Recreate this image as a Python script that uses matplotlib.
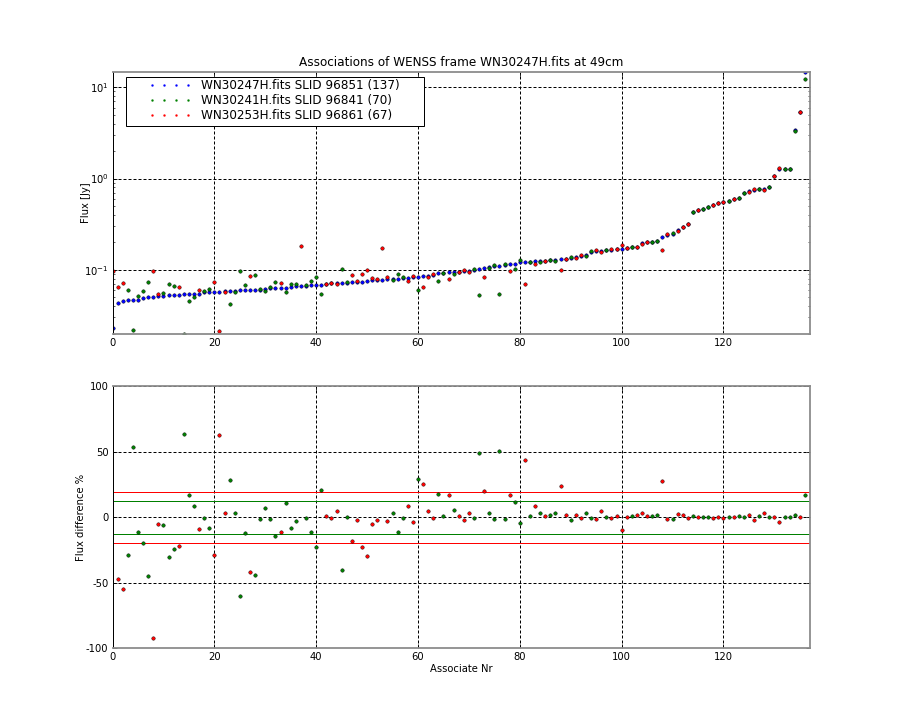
import numpy as np
import matplotlib
matplotlib.use("Agg")
import matplotlib.pyplot as plt
from matplotlib.lines import Line2D
from matplotlib.patches import Rectangle

# ---------------- data ----------------
title = "Associations of WENSS frame WN30247H.fits at 49cm"
ref_name = "WN30247H.fits SLID 96851"
green_name = "WN30241H.fits SLID 96841"
red_name = "WN30253H.fits SLID 96861"

# flux of the reference catalogue (sorted), Jy
ref_flux = [
    0.0230, 0.0434, 0.0457, 0.0469, 0.0469, 0.0470, 0.0493, 0.0506, 0.0506, 0.0519,
    0.0520, 0.0532, 0.0532, 0.0533, 0.0546, 0.0546, 0.0547, 0.0548, 0.0574, 0.0574,
    0.0575, 0.0576, 0.0589, 0.0589, 0.0590, 0.0604, 0.0604, 0.0605, 0.0605, 0.0606,
    0.0619, 0.0635, 0.0635, 0.0636, 0.0637, 0.0651, 0.0668, 0.0668, 0.0669, 0.0685,
    0.0686, 0.0687, 0.0703, 0.0710, 0.0721, 0.0721, 0.0725, 0.0739, 0.0739, 0.0740,
    0.0759, 0.0778, 0.0778, 0.0779, 0.0798, 0.0798, 0.0799, 0.0818, 0.0818, 0.0825,
    0.0840, 0.0861, 0.0862, 0.0883, 0.0929, 0.0929, 0.0953, 0.0953, 0.0954, 0.0977,
    0.0978, 0.1002, 0.1028, 0.1055, 0.1082, 0.1110, 0.1111, 0.1138, 0.1167, 0.1168,
    0.1228, 0.1228, 0.1229, 0.1260, 0.1260, 0.1261, 0.1290, 0.1291, 0.1315, 0.1316,
    0.136, 0.138, 0.142, 0.1455, 0.158, 0.160, 0.162, 0.165, 0.1666, 0.1694,
    0.171, 0.174, 0.178, 0.178, 0.197, 0.202, 0.203, 0.2075, 0.230, 0.240,
    0.246, 0.274, 0.296, 0.314, 0.433, 0.456, 0.467, 0.492, 0.508, 0.535,
    0.553, 0.568, 0.590, 0.612, 0.690, 0.725, 0.756, 0.762, 0.770, 0.800,
    1.06, 1.26, 1.26, 1.26, 3.38, 5.37, 14.7,
]

# which catalogue the associate was found in (G = green, R = red)
match_cat = ("RRRGGGGGRRGGGRGGGRGGRRRGGGGRGGGGGRGGGRGGGGRRRGG"
             "RRRRRRRRGGGRRGRRRGGRGRRRGGRGGGGRGGRGRGRGGRRGR"
             "RGGRRGRRRRGRRRGGRRGRRRGRGGRRRGRGGRRGRGRRGGGRG")

# flux difference %  (ref - match) / ref * 100
flux_diff = [
    -326, -47.6, -55.2, -29.1, 53.7, -11.1, -19.5, -45.1, -92.2, -5.1,
    -6.3, -30.6, -24.6, -22.3, 63.6, 17.2, 8.1, -9.4, -1.0, -8.6,
    -29.1, 62.8, 2.8, 28.6, 3.5, -60.3, -12.4, -42.0, -44.3, -1.8,
    6.6, -1.8, -14.7, -11.7, 11.1, -8.6, -3.3, -175, -1.0, -11.1,
    -23.0, 21.0, 0.5, -1.0, 4.3, -40.5, -0.3, -18.5, -2.5, -23.0,
    -29.9, -5.6, -2.5, -120, -3.3, 3.5, -11.7, -1.0, 8.1, -4.1,
    29.4, 25.6, 4.3, -1.0, 18.0, 0.5, 17.2, 5.1, 0.5, -2.5,
    2.8, -1.0, 49.1, 20.3, 2.8, -1.8, 50.7, -1.8, 16.5, 11.9,
    -4.8, 43.8, 0.5, 8.1, 3.5, 0.5, 1.3, 3.5, 24.1, 1.3,
    -2.5, 1.3, -1.0, 3.5, -1.0, -1.8, 4.3, -0.3, -1.0, 0.5,
    -10.1, -0.3, 0.5, 1.3, 2.8, 0.5, 0.5, 1.3, 27.9, -1.8,
    -1.8, 2.0, 1.3, -1.0, 0.5, -0.3, -0.3, -0.3, -1.0, -0.3,
    -1.0, -0.3, -0.3, 0.5, -0.3, 1.3, -2.0, 0.5, 2.8, -0.3,
    -0.3, -4.1, -0.3, -0.3, 1.3, -0.3, 17.2,
]

# mean +- sigma bands of the flux difference
green_band = [12.5, -12.7]
red_band = [19.1, -19.5]

# ---------------- derived ----------------
x = np.arange(len(ref_flux))
ref = np.array(ref_flux)
diff = np.array(flux_diff)
cat = np.array(list(match_cat))
match_flux = ref * (1 - diff / 100.0)
g = cat == "G"
r = cat == "R"

# ---------------- style ----------------
plt.rcParams.update({
    "font.family": ["DejaVu Sans"],
    "font.size": 10,
    "axes.unicode_minus": False,
    "mathtext.fontset": "dejavusans",
    "xtick.direction": "in",
    "ytick.direction": "in",
    "xtick.top": True,
    "ytick.right": True,
    "xtick.major.size": 4,
    "ytick.major.size": 4,
    "xtick.minor.size": 2,
    "ytick.minor.size": 2,
    "xtick.major.pad": 4,
    "ytick.major.pad": 4,
})

fig = plt.figure(figsize=(12.5, 10), dpi=72, facecolor="white")
ax1 = fig.add_subplot(211)
ax2 = fig.add_subplot(212)
fig.subplots_adjust(left=0.125, right=0.9, bottom=0.1, top=0.9, hspace=0.2)

mkw = dict(linestyle="none", marker=".", markersize=7, markeredgecolor="k",
           markeredgewidth=0.4)

# top panel
ax1.plot(x, ref, color="b", **mkw)
ax1.plot(x[g], match_flux[g], color="g", **mkw)
ax1.plot(x[r], match_flux[r], color="r", **mkw)
ax1.set_yscale("log")
allv = np.concatenate([ref, match_flux])
ax1.set_ylim(allv.min(), allv.max())
ax1.set_xlim(0, len(ref))
ax1.set_xticks(np.arange(0, 121, 20))
ax1.set_ylabel("Flux [Jy]")
ax1.yaxis.set_label_coords(-0.0315, 0.5)
ax1.set_title(title, fontsize=12, pad=6)

# bottom panel
for v in red_band:
    ax2.axhline(v, color="r", lw=1)
for v in green_band:
    ax2.axhline(v, color="g", lw=1)
ax2.plot(x[g], diff[g], color="g", **mkw)
ax2.plot(x[r], diff[r], color="r", **mkw)
ax2.set_xlim(0, len(ref))
ax2.set_ylim(-100, 100)
ax2.set_xticks(np.arange(0, 121, 20))
ax2.set_yticks([-100, -50, 0, 50, 100])
ax2.set_xlabel("Associate Nr", labelpad=2)
ax2.set_ylabel("Flux difference %")
ax2.yaxis.set_label_coords(-0.0387, 0.5)

for ax in (ax1, ax2):
    ax.grid(True, which="major", color="k", linestyle=(0, (3, 2)), linewidth=1)
    ax.spines["left"].set_color("k")
    ax.spines["left"].set_linewidth(1)
    for s in ("top", "bottom", "right"):
        ax.spines[s].set_color("0.55")
        ax.spines[s].set_linewidth(1.8)

# legend
handles = [
    Line2D([], [], linestyle="none", marker=".", markersize=4, color=c,
           markeredgecolor=c, markeredgewidth=0.3)
    for c in ("b", "g", "r")
]
labels = [
    f"{ref_name} ({len(ref)})",
    f"{green_name} ({int(g.sum())})",
    f"{red_name} ({int(r.sum())})",
]
leg = ax1.legend(handles, labels, loc="upper left",
                 bbox_to_anchor=(148.4 / 900, 1 - 79.5 / 720),
                 bbox_transform=fig.transFigure, frameon=False,
                 borderpad=0, borderaxespad=0, numpoints=4,
                 handlelength=3.6, handletextpad=0.8, labelspacing=0.16,
                 fontsize=12)
leg.set_zorder(6)
frame = Rectangle((126 / 900, 1 - 126 / 720), (424 - 126) / 900, (126 - 77) / 720,
                  transform=fig.transFigure, facecolor="white", edgecolor="k",
                  linewidth=1, clip_on=False, zorder=5)
ax1.add_patch(frame)

fig.savefig("out.png", dpi=72, facecolor="white")
